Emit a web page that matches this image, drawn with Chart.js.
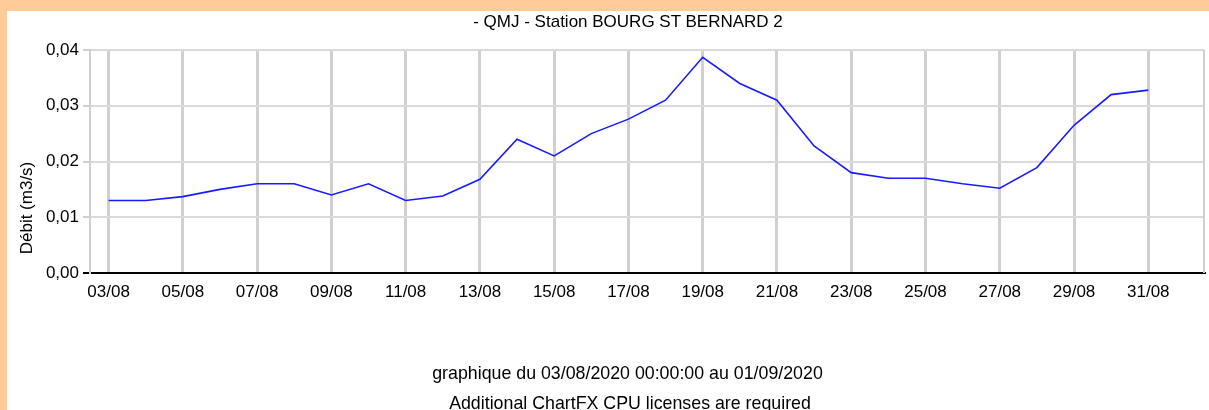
<!DOCTYPE html>
<html>
<head>
<meta charset="utf-8">
<script src="https://cdn.jsdelivr.net/npm/chart.js@4/dist/chart.umd.min.js"></script>
<style>
  body { margin: 0; width: 1209px; height: 410px; overflow: hidden; background: #ffcc99; position: relative;
         font-family: "Liberation Sans", Arial, sans-serif; font-size: 17px; color: #000; }
  #panel { position: absolute; left: 7px; top: 11px; width: 1202px; height: 399px; background: #fff; }
  .txt { position: absolute; white-space: nowrap; text-align: center; line-height: 20px; }
  .foot { font-size: 17.8px; }
</style>
</head>
<body>
<div id="panel"><canvas id="debitChart" width="1202" height="399"></canvas></div>
<div class="txt" style="left:0; width:1256px; top:12px;">- QMJ - Station BOURG ST BERNARD 2</div>
<div class="txt" style="left:-33px; width:120px; top:198px; transform: rotate(-90deg);">Débit (m3/s)</div>
<div class="txt foot" style="left:0; width:1255px; top:363px;">graphique du 03/08/2020 00:00:00 au 01/09/2020</div>
<div class="txt foot" style="left:0; width:1260px; top:393px;">Additional ChartFX CPU licenses are required</div>
<script>
// jours du 03/08 au 31/08
const dates = ['03/08', '04/08', '05/08', '06/08', '07/08', '08/08', '09/08', '10/08', '11/08', '12/08',
    '13/08', '14/08', '15/08', '16/08', '17/08', '18/08', '19/08', '20/08', '21/08', '22/08',
    '23/08', '24/08', '25/08', '26/08', '27/08', '28/08', '29/08', '30/08', '31/08'];
// débit (m3/s)
const debit = [0.013, 0.013, 0.0137, 0.015, 0.016, 0.016, 0.014, 0.016, 0.013, 0.0138,
    0.0168, 0.024, 0.021, 0.025, 0.0276, 0.031, 0.0387, 0.034, 0.031, 0.0228,
    0.018, 0.017, 0.017, 0.016, 0.0152, 0.0189, 0.0265, 0.032, 0.0328];
// une étiquette sur deux
const tickDays = [0, 2, 4, 6, 8, 10, 12, 14, 16, 18, 20, 22, 24, 26, 28];
const yTicks = [0, 0.01, 0.02, 0.03, 0.04];

const tickFont = { family: '"Liberation Sans", Arial, sans-serif', size: 17 };

// bord droit du cadre
const rightBorder = {
    id: 'rightBorder',
    beforeDatasetsDraw(chart) {
        const a = chart.chartArea;
        const c = chart.ctx;
        c.save();
        c.strokeStyle = '#d0d0d0';
        c.lineWidth = 2;
        c.beginPath();
        c.moveTo(a.right, a.top);
        c.lineTo(a.right, a.bottom);
        c.stroke();
        c.restore();
    }
};

const ctx = document.getElementById('debitChart').getContext('2d');
const myChart = new Chart(ctx, {
    type: 'line',
    data: {
        datasets: [{
            data: dates.map((d, i) => ({ x: i, y: debit[i] })),
            borderColor: '#1a1aff',
            borderWidth: 1.6,
            pointRadius: 0,
            fill: false,
            tension: 0
        }]
    },
    options: {
        responsive: false,
        animation: false,
        devicePixelRatio: 1,
        layout: { padding: { top: 39, right: 5, left: 0, bottom: 0 } },
        plugins: { legend: { display: false }, tooltip: { enabled: false }, title: { display: false } },
        scales: {
            x: {
                type: 'linear',
                min: -0.5,
                max: 29.5,
                afterBuildTicks: scale => { scale.ticks = tickDays.map(v => ({ value: v })); },
                afterFit: scale => { scale.height = 137; },
                grid: { color: '#d0d0d0', lineWidth: 3, drawTicks: false },
                border: { color: '#000', width: 2 },
                ticks: {
                    autoSkip: false, maxRotation: 0, padding: 9, color: '#000', font: tickFont,
                    callback: v => dates[v]
                }
            },
            y: {
                min: 0,
                max: 0.04,
                afterBuildTicks: scale => { scale.ticks = yTicks.map(v => ({ value: v })); },
                afterFit: scale => { scale.width = 83; },
                grid: {
                    color: c => c.tick && c.tick.value === 0 ? 'rgba(0,0,0,0)' : '#dadada',
                    tickColor: c => c.tick && c.tick.value === 0 ? '#000' : '#d0d0d0',
                    lineWidth: 2,
                    tickLength: 7
                },
                border: { color: '#d0d0d0', width: 2 },
                ticks: {
                    padding: 4, color: '#000', font: tickFont,
                    callback: v => v.toFixed(2).replace('.', ',')
                }
            }
        }
    },
    plugins: [rightBorder]
});
</script>
</body>
</html>
